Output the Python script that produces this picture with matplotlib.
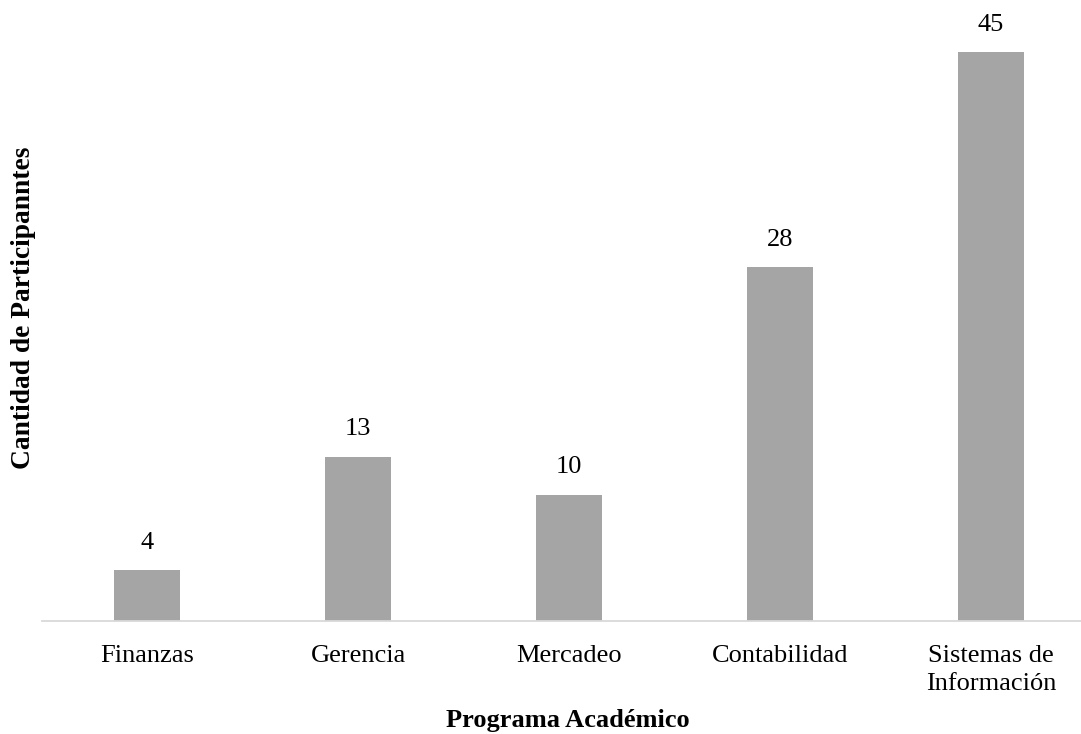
import matplotlib
matplotlib.use("Agg")
import matplotlib.pyplot as plt

categories = ["Finanzas", "Gerencia", "Mercadeo", "Contabilidad", "Sistemas de\nInformación"]
values = [4, 13, 10, 28, 45]

plt.rcParams['font.family'] = ['Liberation Serif', 'DejaVu Serif']

W, H = 1081, 734
fig = plt.figure(figsize=(W/100, H/100), dpi=100)
left = 41.5 / W
width = 1055 / W
bottom = (H - 621) / H
ymax = 50
height = (569 / 45 * ymax) / H
ax = fig.add_axes([left, bottom, width, height])

x = range(len(categories))
bars = ax.bar(x, values, width=0.31, color="#a5a5a5", zorder=2)
for xi, v in zip(x, values):
    ax.text(xi, v + 1.3, str(v), ha="center", va="bottom", fontsize=19, color="black")

ax.set_xlim(-0.5, 4.5)
ax.set_ylim(0, ymax)
ax.set_xticks(list(x))
ax.set_xticklabels(categories, fontsize=19, linespacing=1.38)
ax.tick_params(axis="x", length=0, pad=17)
ax.set_yticks([])
for s in ["top", "right", "left"]:
    ax.spines[s].set_visible(False)
ax.spines["bottom"].set_color("#d9d9d9")
ax.spines["bottom"].set_linewidth(1.3)

fig.text(24 / W, 1 - 308 / H, "Cantidad de Participanntes", rotation=90, ha="center", va="center",
         fontsize=19.8, fontweight="bold")
fig.text(568 / W, 1 - 720 / H, "Programa Académico", ha="center", va="center",
         fontsize=19, fontweight="bold")

fig.savefig("out.png", dpi=100)
